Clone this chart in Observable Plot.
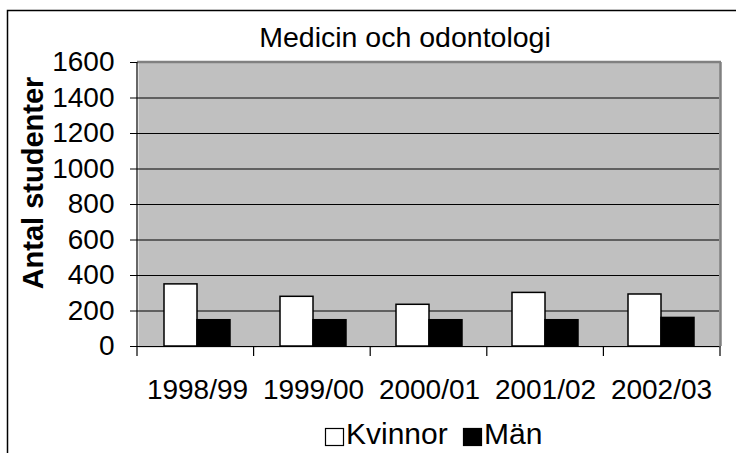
<!DOCTYPE html>
<html>
<head>
<meta charset="utf-8">
<script src="https://cdn.jsdelivr.net/npm/d3@7"></script>
<script src="https://cdn.jsdelivr.net/npm/@observablehq/plot@0.6"></script>
<style>
  html, body { margin: 0; padding: 0; background: white; }
  #chart svg { display: block; }
</style>
</head>
<body>
<div id="chart"></div>
<script>
const years = ["1998/99", "1999/00", "2000/01", "2001/02", "2002/03"];
const series = ["Kvinnor", "Män"];
const kvinnor = [350, 280, 235, 302, 293];
const man = [148, 148, 148, 148, 161];
const yTicks = [0, 200, 400, 600, 800, 1000, 1200, 1400, 1600];
const titleText = "Medicin och odontologi";
const yLabel = "Antal studenter";

const data = years.flatMap((yr, i) => [
  {year: yr, kon: series[0], value: kvinnor[i]},
  {year: yr, kon: series[1], value: man[i]}
]);

const FONT = "'Liberation Sans', Arial, sans-serif";

const chart = Plot.plot({
  width: 736,
  height: 453,
  marginLeft: 137,
  marginRight: 16,
  marginTop: 62,
  marginBottom: 107,
  style: {fontFamily: FONT, background: "white", color: "black", overflow: "visible"},
  fx: {domain: years, padding: 0},
  x: {domain: series, paddingInner: 0, paddingOuter: 0.737, axis: null},
  y: {domain: [0, 1600]},
  color: {domain: series, range: ["white", "black"]},
  marks: [
    Plot.frame({fill: "#c0c0c0", stroke: "#c0c0c0", strokeWidth: 2}),
    Plot.gridY(yTicks.filter(t => t > 0 && t < 1600), {stroke: "black", strokeOpacity: 1, strokeWidth: 1}),
    Plot.barY(data, {fx: "year", x: "kon", y: "value", fill: "kon", stroke: "black", strokeWidth: 1.5}),
    Plot.ruleY([0], {stroke: "black", strokeWidth: 1.2}),
    Plot.axisY(yTicks, {tickSize: 9, tickPadding: 16, fontSize: 28, label: null, stroke: "black", tickFormat: d => String(d)}),
    Plot.axisFx({anchor: "bottom", tickSize: 0, tickPadding: 33, fontSize: 28, label: null})
  ]
});

document.getElementById("chart").appendChild(chart);

const svg = d3.select(chart);
const fx = chart.scale("fx");
const yS = chart.scale("y");
const color = chart.scale("color");
const fxRange = fx.range;
const left = Math.min(...fxRange), right = Math.max(...fxRange);
const y0 = yS.apply(0), yTop = yS.apply(1600);

// band boundary ticks below x axis
const step = (right - left) / years.length;
const edges = d3.range(years.length + 1).map(i => left + i * step);
svg.append("g").selectAll("line").data(edges).join("line")
  .attr("x1", d => d).attr("x2", d => d)
  .attr("y1", y0).attr("y2", y0 + 10)
  .attr("stroke", "black").attr("stroke-width", 1.2);

// plot border: top & right gray, left black
svg.append("line").attr("x1", left).attr("x2", right + 1).attr("y1", yTop).attr("y2", yTop)
  .attr("stroke", "#808080").attr("stroke-width", 2.5);
svg.append("line").attr("x1", right + 0.5).attr("x2", right + 0.5).attr("y1", yTop).attr("y2", y0)
  .attr("stroke", "#808080").attr("stroke-width", 2.5);
svg.append("line").attr("x1", left).attr("x2", left).attr("y1", yTop).attr("y2", y0)
  .attr("stroke", "black").attr("stroke-width", 1.2);

// outer chart border
svg.append("rect").attr("x", 7.5).attr("y", 10.5).attr("width", 800).attr("height", 500)
  .attr("fill", "none").attr("stroke", "black").attr("stroke-width", 1.5);

// title
svg.append("text").attr("x", 405).attr("y", 47)
  .attr("text-anchor", "middle").attr("font-size", 28.5).attr("font-family", FONT)
  .attr("fill", "black").text(titleText);

// y axis label
svg.append("text").attr("transform", "translate(43,183) rotate(-90)")
  .attr("text-anchor", "middle").attr("font-size", 29).attr("font-weight", "bold")
  .attr("font-family", FONT).attr("fill", "black").text(yLabel);

// legend
const legend = svg.append("g").attr("font-family", FONT).attr("font-size", 30).attr("text-anchor", "start");
const items = [{name: series[0], x: 325}, {name: series[1], x: 463}];
items.forEach(it => {
  legend.append("rect").attr("x", it.x + 0.5).attr("y", 428.5).attr("width", 18).attr("height", 17)
    .attr("fill", color.apply(it.name)).attr("stroke", "black").attr("stroke-width", 1.2);
  legend.append("text").attr("x", it.x + 21).attr("y", 444).attr("text-anchor", "start")
    .attr("fill", "black").text(it.name);
});
</script>
</body>
</html>
